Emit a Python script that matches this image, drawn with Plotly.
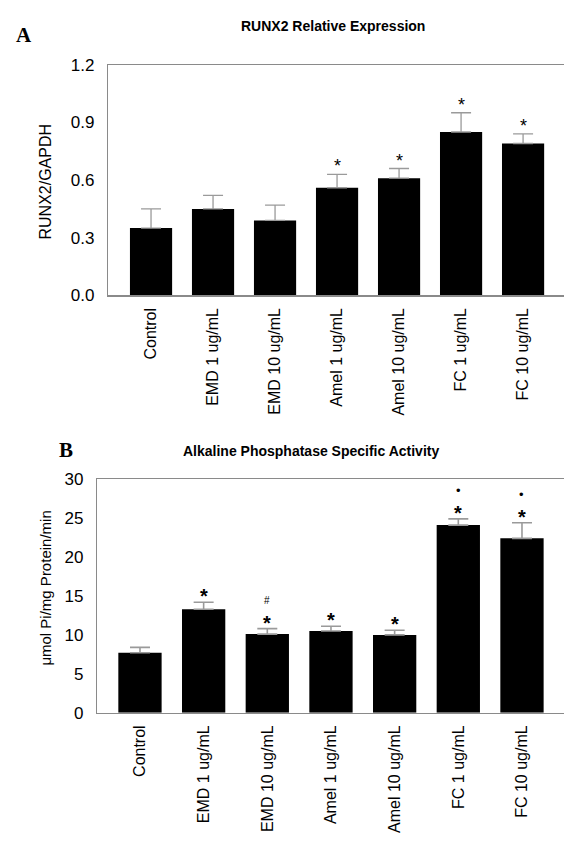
import plotly.graph_objects as go

categories = ["Control", "EMD 1 ug/mL", "EMD 10 ug/mL", "Amel 1 ug/mL",
              "Amel 10 ug/mL", "FC 1 ug/mL", "FC 10 ug/mL"]

runx2_mean = [0.35, 0.45, 0.39, 0.56, 0.61, 0.85, 0.79]
runx2_err = [0.10, 0.07, 0.08, 0.07, 0.05, 0.10, 0.05]
runx2_sig = ["", "", "", "*", "*", "*", "*"]

alp_mean = [7.7, 13.3, 10.1, 10.5, 10.0, 24.1, 22.4]
alp_err = [0.7, 0.9, 0.7, 0.6, 0.6, 0.8, 2.0]
alp_sig = ["", "*", "*", "*", "*", "*", "*"]
alp_sig2 = ["", "", "#", "", "", "•", "•"]

runx2_ticks = [0.0, 0.3, 0.6, 0.9, 1.2]
alp_ticks = [0, 5, 10, 15, 20, 25, 30]

FONT = "Liberation Sans, Arial, sans-serif"
SERIF = "Liberation Serif, Times New Roman, serif"
AXC = "#8a8a8a"
ERRC = "#9a9a9a"

fig = go.Figure()
x_idx = list(range(len(categories)))

fig.add_trace(go.Bar(
    x=x_idx, y=runx2_mean, width=0.68, marker=dict(color="black", line=dict(width=0)),
    error_y=dict(type="data", array=runx2_err, arrayminus=[0] * len(runx2_err),
                 symmetric=False, color=ERRC, thickness=1.3, width=10),
    xaxis="x", yaxis="y", showlegend=False, hoverinfo="skip"))

fig.add_trace(go.Bar(
    x=x_idx, y=alp_mean, width=0.68, marker=dict(color="black", line=dict(width=0)),
    error_y=dict(type="data", array=alp_err, arrayminus=[0] * len(alp_err),
                 symmetric=False, color=ERRC, thickness=1.6, width=10),
    xaxis="x2", yaxis="y2", showlegend=False, hoverinfo="skip"))

annotations = []
for i, (m, e, s) in enumerate(zip(runx2_mean, runx2_err, runx2_sig)):
    if s:
        annotations.append(dict(x=i, y=m + e, xref="x", yref="y", text=s, showarrow=False,
                                yanchor="middle", yshift=8,
                                font=dict(family=FONT, size=18, color="black")))
for i, (m, e, s, s2) in enumerate(zip(alp_mean, alp_err, alp_sig, alp_sig2)):
    if s:
        annotations.append(dict(x=i, y=m + e, xref="x2", yref="y2", text="<b>" + s + "</b>",
                                showarrow=False, yanchor="middle", yshift=6,
                                font=dict(family=FONT, size=20, color="black")))
    if s2:
        sz = 10 if s2 == "#" else 13
        annotations.append(dict(x=i, y=m + e, xref="x2", yref="y2", text=s2,
                                showarrow=False, yanchor="middle", yshift=28,
                                font=dict(family=FONT, size=sz, color="black")))

# titles and panel letters
annotations += [
    dict(x=333 / 564, y=1 - 17 / 842, xref="paper", yref="paper", showarrow=False,
         text="<b>RUNX2 Relative Expression</b>", xanchor="center", yanchor="middle",
         font=dict(family=FONT, size=14, color="black")),
    dict(x=24 / 564, y=1 - 27 / 842, xref="paper", yref="paper", showarrow=False,
         text="<b>A</b>", xanchor="center", yanchor="middle",
         font=dict(family=SERIF, size=21, color="black")),
    dict(x=311 / 564, y=1 - 452 / 842, xref="paper", yref="paper", showarrow=False,
         text="<b>Alkaline Phosphatase Specific Activity</b>", xanchor="center", yanchor="middle",
         font=dict(family=FONT, size=14, color="black")),
    dict(x=66 / 564, y=1 - 451 / 842, xref="paper", yref="paper", showarrow=False,
         text="<b>B</b>", xanchor="center", yanchor="middle",
         font=dict(family=SERIF, size=21, color="black")),
    dict(x=46 / 564, y=1 - 176.5 / 842, xref="paper", yref="paper", showarrow=False,
         text="RUNX2/GAPDH", textangle=-90, xanchor="center", yanchor="middle",
         font=dict(family=FONT, size=16, color="black")),
    dict(x=46 / 564, y=1 - 593 / 842, xref="paper", yref="paper", showarrow=False,
         text="μmol Pi/mg Protein/min", textangle=-90, xanchor="center", yanchor="middle",
         font=dict(family=FONT, size=15, color="black")),
]

xcommon = dict(tickmode="array", tickvals=x_idx, ticktext=categories, tickangle=-90,
               showline=True, linecolor=AXC, linewidth=1.2, mirror=True,
               ticks="outside", ticklen=5, tickcolor="rgba(0,0,0,0)",
               showgrid=False, zeroline=False,
               tickfont=dict(family=FONT, size=16, color="black"))
ycommon = dict(showline=True, linecolor=AXC, linewidth=1.2, showgrid=False, zeroline=False,
               ticks="outside", ticklen=9, tickcolor="rgba(0,0,0,0)",
               tickfont=dict(family=FONT, size=17, color="black"))

fig.update_layout(
    width=564, height=842, autosize=False,
    margin=dict(l=0, r=0, t=0, b=0),
    paper_bgcolor="white", plot_bgcolor="white",
    xaxis=dict(domain=[108 / 564, 1], range=[-0.694, 6.66], anchor="y", **xcommon),
    yaxis=dict(domain=[1 - 293 / 842, 1 - 57 / 842], range=[0, 1.2], anchor="x",
               tickmode="array", tickvals=runx2_ticks,
               ticktext=[f"{v:.1f}" for v in runx2_ticks], **ycommon),
    xaxis2=dict(domain=[97 / 564, 1], range=[-0.675, 6.66], anchor="y2", **xcommon),
    yaxis2=dict(domain=[1 - 720 / 842, 1 - 481 / 842], range=[0, 30], anchor="x2",
                tickmode="array", tickvals=alp_ticks,
                ticktext=[str(v) for v in alp_ticks], **ycommon),
    annotations=annotations,
)

fig.write_html("out.html", config={"displayModeBar": False, "staticPlot": True},
               post_script="document.body.style.margin='0';document.body.style.overflow='hidden';")
